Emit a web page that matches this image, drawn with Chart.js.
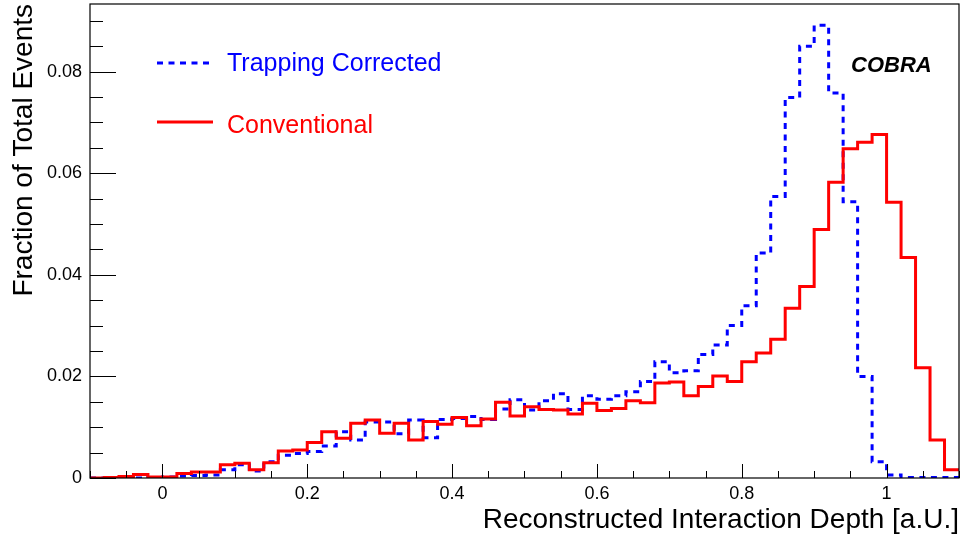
<!DOCTYPE html>
<html>
<head>
<meta charset="utf-8">
<style>
    html, body { margin: 0; padding: 0; background: #fff; }
    #wrap { width: 961px; height: 540px; }
</style>
<script src="https://cdn.jsdelivr.net/npm/chart.js@4/dist/chart.umd.min.js"></script>
</head>
<body>
<div id="wrap"><canvas id="depthChart" width="961" height="540"></canvas></div>
<script>
// histogram binning: 60 bins of 0.02 from -0.1 to 1.1
const xLow = -0.1;
const xHigh = 1.1;
const binWidth = 0.02;

// fraction of total events per bin
const conventional = [
    0.0000, 0.0001, 0.0003, 0.0007, 0.0002, 0.0002, 0.0009, 0.0012, 0.0012, 0.0026,
    0.0029, 0.0016, 0.0030, 0.0053, 0.0055, 0.0070, 0.0091, 0.0078, 0.0108, 0.0114,
    0.0088, 0.0108, 0.0075, 0.0111, 0.0106, 0.0119, 0.0103, 0.0116, 0.0149, 0.0122,
    0.0140, 0.0135, 0.0134, 0.0126, 0.0147, 0.0133, 0.0137, 0.0152, 0.0148, 0.0187,
    0.0189, 0.0162, 0.0180, 0.0201, 0.0190, 0.0229, 0.0246, 0.0273, 0.0334, 0.0377,
    0.0489, 0.0582, 0.0648, 0.0661, 0.0676, 0.0543, 0.0434, 0.0217, 0.0075, 0.0016
];

const trappingCorrected = [
    0.0000, 0.0000, 0.0000, 0.0000, 0.0001, 0.0002, 0.0004, 0.0005, 0.0006, 0.0016,
    0.0026, 0.0014, 0.0032, 0.0045, 0.0048, 0.0052, 0.0063, 0.0091, 0.0075, 0.0110,
    0.0110, 0.0087, 0.0114, 0.0079, 0.0115, 0.0117, 0.0121, 0.0115, 0.0136, 0.0154,
    0.0134, 0.0152, 0.0166, 0.0135, 0.0162, 0.0155, 0.0162, 0.0170, 0.0190, 0.0229,
    0.0207, 0.0211, 0.0243, 0.0262, 0.0300, 0.0339, 0.0443, 0.0554, 0.0749, 0.0850,
    0.0891, 0.0758, 0.0544, 0.0200, 0.0032, 0.0006, 0.0001, 0.0001, 0.0001, 0.0001
];

const xTickValues = [0, 0.2, 0.4, 0.6, 0.8, 1];
const xTickLabels = ["0", "0.2", "0.4", "0.6", "0.8", "1"];
const yTickValues = [0, 0.02, 0.04, 0.06, 0.08];
const yTickLabels = ["0", "0.02", "0.04", "0.06", "0.08"];
const yMax = 0.0933;

const FONT = "'Liberation Sans', Arial, Helvetica, sans-serif";

// step points: left edge of every bin, plus the closing upper edge
function histPoints(values) {
    const pts = values.map((v, i) => ({ x: xLow + i * binWidth, y: v }));
    pts.push({ x: xHigh, y: values[values.length - 1] });
    return pts;
}

// drop the label overhang padding so the frame sits where ROOT put it
function noLabelPadding(axis) {
    axis.paddingTop = 0;
    axis.paddingBottom = 0;
    axis.paddingLeft = 0;
    axis.paddingRight = 0;
}

// ROOT style frame with ticks drawn inward
const frameTicks = {
    id: "frameTicks",
    afterDraw(chart) {
        const { ctx, chartArea: a, scales: { x, y } } = chart;
        ctx.save();
        ctx.strokeStyle = "#000";
        ctx.lineWidth = 1;
        ctx.beginPath();

        // x axis: major every 0.2, minor every 0.05
        for (let k = -2; k <= 22; k++) {
            const v = k * 0.05;
            if (v < xLow - 1e-9 || v > xHigh + 1e-9) continue;
            const px = Math.round(x.getPixelForValue(v)) + 0.5;
            const len = (k % 4 === 0) ? 14 : 7;
            ctx.moveTo(px, a.bottom);
            ctx.lineTo(px, a.bottom - len);
        }

        // y axis: major every 0.02, minor every 0.005
        for (let k = 0; k * 0.005 <= yMax; k++) {
            const py = Math.round(y.getPixelForValue(k * 0.005)) + 0.5;
            const len = (k % 4 === 0) ? 26 : 13;
            ctx.moveTo(a.left, py);
            ctx.lineTo(a.left + len, py);
        }
        ctx.stroke();

        ctx.lineWidth = 1.2;
        ctx.strokeRect(a.left, a.top, a.right - a.left, a.bottom - a.top);

        // legend
        ctx.lineWidth = 3;
        ctx.strokeStyle = "#0000ff";
        ctx.setLineDash([6, 5.5]);
        ctx.beginPath();
        ctx.moveTo(157, 63);
        ctx.lineTo(212, 63);
        ctx.stroke();

        ctx.strokeStyle = "#ff0000";
        ctx.setLineDash([]);
        ctx.beginPath();
        ctx.moveTo(157, 122);
        ctx.lineTo(213, 122);
        ctx.stroke();

        ctx.font = "25px " + FONT;
        ctx.textAlign = "left";
        ctx.textBaseline = "alphabetic";
        ctx.fillStyle = "#0000ff";
        ctx.fillText("Trapping Corrected", 227, 71);
        ctx.fillStyle = "#ff0000";
        ctx.fillText("Conventional", 227, 133);

        ctx.font = "italic bold 22px " + FONT;
        ctx.fillStyle = "#000";
        ctx.fillText("COBRA", 851, 72);
        ctx.restore();
    }
};

const ctx = document.getElementById("depthChart");

new Chart(ctx, {
    type: "line",
    data: {
        datasets: [
            {
                label: "Trapping Corrected",
                data: histPoints(trappingCorrected),
                borderColor: "#0000ff",
                borderWidth: 3,
                borderDash: [6, 5.5],
                stepped: "before",
                pointRadius: 0,
                fill: false,
                order: 2
            },
            {
                label: "Conventional",
                data: histPoints(conventional),
                borderColor: "#ff0000",
                borderWidth: 3,
                stepped: "before",
                pointRadius: 0,
                fill: false,
                order: 1
            }
        ]
    },
    options: {
        responsive: false,
        animation: false,
        layout: { padding: { top: 4, right: 2, left: 0, bottom: 0 } },
        plugins: {
            legend: { display: false },
            tooltip: { enabled: false }
        },
        scales: {
            x: {
                type: "linear",
                min: xLow,
                max: xHigh,
                afterBuildTicks: axis => {
                    axis.ticks = xTickValues.map(v => ({ value: v }));
                },
                afterFit: axis => {
                    axis.height = 62;
                    noLabelPadding(axis);
                },
                ticks: {
                    callback: (value, i) => xTickLabels[i],
                    color: "#000",
                    font: { family: FONT, size: 18 },
                    padding: 5,
                    maxRotation: 0,
                    autoSkip: false
                },
                grid: { display: false, drawTicks: false },
                border: { display: false },
                title: {
                    display: true,
                    text: "Reconstructed Interaction Depth [a.U.]",
                    align: "end",
                    color: "#000",
                    font: { family: FONT, size: 28 },
                    padding: { top: 0, bottom: 3 }
                }
            },
            y: {
                type: "linear",
                min: 0,
                max: yMax,
                afterBuildTicks: axis => {
                    axis.ticks = yTickValues.map(v => ({ value: v }));
                },
                afterFit: axis => {
                    axis.width = 90;
                    noLabelPadding(axis);
                },
                ticks: {
                    callback: (value, i) => yTickLabels[i],
                    color: "#000",
                    font: { family: FONT, size: 18 },
                    padding: 8,
                    autoSkip: false
                },
                grid: { display: false, drawTicks: false },
                border: { display: false },
                title: {
                    display: true,
                    text: "Fraction of Total Events",
                    align: "end",
                    color: "#000",
                    font: { family: FONT, size: 28 },
                    padding: { top: 7, bottom: 0 }
                }
            }
        }
    },
    plugins: [frameTicks]
});
</script>
</body>
</html>
